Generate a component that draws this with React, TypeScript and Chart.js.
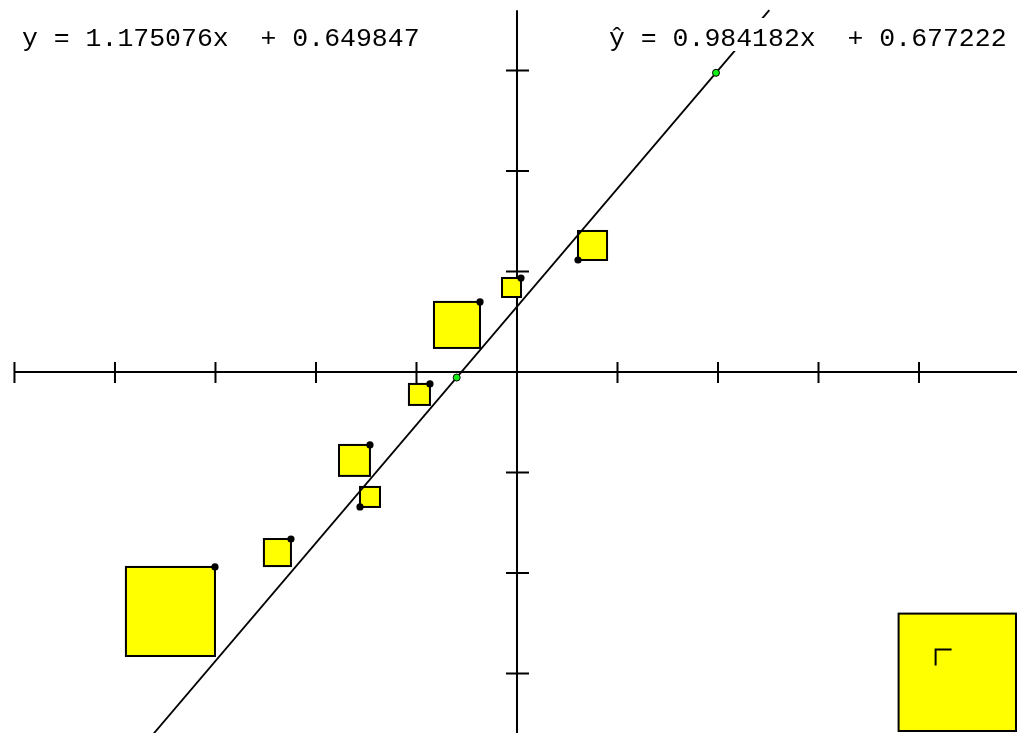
import React, { useEffect, useRef } from "react";
import { Chart, registerables } from "chart.js";

Chart.register(...registerables);

// Data
const xValues = [-3.005, -2.249, -1.562, -1.463, -0.866, -0.368, 0.04, 0.607];
const yValues = [-1.94, -1.662, -1.343, -0.726, -0.119, 0.697, 0.935, 1.114];
const squareSides = [0.886, 0.269, 0.199, 0.308, 0.209, 0.458, 0.189, 0.289];
const lineSlope = 1.175076;
const lineIntercept = 0.649847;
const fitSlope = 0.984182;
const fitIntercept = 0.677222;
const handleX = [-0.6, 1.98];
const lineYRange = [-3.6, 3.6];
const xTicks = [-5, -4, -3, -2, -1, 0, 1, 2, 3, 4];
const yTicks = [-3, -2, -1, 0, 1, 2, 3];
const xAxisStart = -5;
const yAxisTop = 3.6;

const lineY = (x: number) => lineSlope * x + lineIntercept;
const lineX = (y: number) => (y - lineIntercept) / lineSlope;

const eqText = `y = ${lineSlope.toFixed(6)}x  + ${lineIntercept.toFixed(6)}`;
const fitText = `\u0177 = ${fitSlope.toFixed(6)}x  + ${fitIntercept.toFixed(6)}`;

const FONT = "26.5px 'Courier New', 'Liberation Mono', monospace";

const backgroundPlugin = {
  id: "axesAndSquares",
  beforeDatasetsDraw(chart: any) {
    const { ctx, chartArea } = chart;
    const xs = chart.scales.x;
    const ys = chart.scales.y;
    ctx.save();
    ctx.fillStyle = "#ffffff";
    ctx.fillRect(0, 0, chart.width, chart.height);
    // axes
    ctx.strokeStyle = "#000000";
    ctx.lineWidth = 2;
    const x0 = xs.getPixelForValue(0);
    const y0 = ys.getPixelForValue(0);
    ctx.beginPath();
    ctx.moveTo(xs.getPixelForValue(xAxisStart), y0);
    ctx.lineTo(chartArea.right, y0);
    ctx.moveTo(x0, ys.getPixelForValue(yAxisTop));
    ctx.lineTo(x0, chartArea.bottom);
    for (const t of xTicks) {
      const px = xs.getPixelForValue(t);
      ctx.moveTo(px, y0 - 10);
      ctx.lineTo(px, y0 + 11);
    }
    for (const t of yTicks) {
      const py = ys.getPixelForValue(t);
      ctx.moveTo(x0 - 11, py);
      ctx.lineTo(x0 + 12, py);
    }
    ctx.stroke();

    // residual squares
    ctx.fillStyle = "#ffff00";
    ctx.strokeStyle = "#000000";
    ctx.lineWidth = 2;
    let sumSq = 0;
    xValues.forEach((x, i) => {
      const y = yValues[i];
      const s = squareSides[i];
      const above = y - lineY(x) > 0;
      const x1 = above ? x - s : x;
      const x2 = above ? x : x + s;
      const y1 = above ? y : y + s;
      const y2 = above ? y - s : y;
      const left = xs.getPixelForValue(x1);
      const right = xs.getPixelForValue(x2);
      const top = ys.getPixelForValue(y1);
      const bottom = ys.getPixelForValue(y2);
      ctx.fillRect(left, top, right - left, bottom - top);
      ctx.strokeRect(left, top, right - left, bottom - top);
      const sidePx = right - left;
      sumSq += sidePx * sidePx;
    });

    // total square
    const big = Math.sqrt(sumSq);
    const bRight = chartArea.right - 1;
    const bBottom = chartArea.bottom - 2;
    const bLeft = bRight - big;
    const bTop = bBottom - big;
    ctx.fillRect(bLeft, bTop, big, big);
    ctx.strokeRect(bLeft, bTop, big, big);
    ctx.beginPath();
    ctx.moveTo(bLeft + 37, bTop + 52);
    ctx.lineTo(bLeft + 37, bTop + 36);
    ctx.lineTo(bLeft + 53, bTop + 36);
    ctx.stroke();
    ctx.restore();
  },
  afterDatasetsDraw(chart: any) {
    const { ctx } = chart;
    ctx.save();
    ctx.font = FONT;
    ctx.textBaseline = "alphabetic";
    ctx.fillStyle = "#ffffff";
    ctx.fillRect(603, 18, 414, 33);
    ctx.fillStyle = "#000000";
    ctx.textAlign = "left";
    ctx.fillText(eqText, 22, 46);
    ctx.fillText(fitText, 609, 46);
    ctx.restore();
  },
};

export default function App() {
  const canvasRef = useRef<HTMLCanvasElement | null>(null);
  useEffect(() => {
    if (!canvasRef.current) return;
    const chart = new Chart(canvasRef.current, {
      type: "scatter",
      data: {
        datasets: [
          {
            label: "handles",
            data: handleX.map((x) => ({ x, y: lineY(x) })),
            backgroundColor: "#11ee11",
            borderColor: "#000000",
            borderWidth: 1,
            pointRadius: 3.5,
            order: 0,
          },
          {
            label: "points",
            data: xValues.map((x, i) => ({ x, y: yValues[i] })),
            backgroundColor: "#000000",
            borderColor: "#000000",
            borderWidth: 0,
            pointRadius: 3.6,
            order: 1,
          },
          {
            type: "line",
            label: "line",
            data: lineYRange.map((y) => ({ x: lineX(y), y })),
            borderColor: "#000000",
            borderWidth: 1.8,
            pointRadius: 0,
            fill: false,
            order: 2,
          } as any,
        ],
      },
      options: {
        responsive: false,
        animation: false,
        layout: { padding: 0, autoPadding: false },
        plugins: { legend: { display: false }, tooltip: { enabled: false } },
        scales: {
          x: { type: "linear", min: -5.144, max: 4.975, display: false },
          y: { type: "linear", min: -3.592, max: 3.701, display: false },
        },
      },
      plugins: [backgroundPlugin],
    });
    return () => chart.destroy();
  }, []);
  return (
    <div style={{ position: "absolute", left: 0, top: 0, width: 1017, height: 733 }}>
      <canvas ref={canvasRef} width={1017} height={733} style={{ display: "block" }} />
    </div>
  );
}
